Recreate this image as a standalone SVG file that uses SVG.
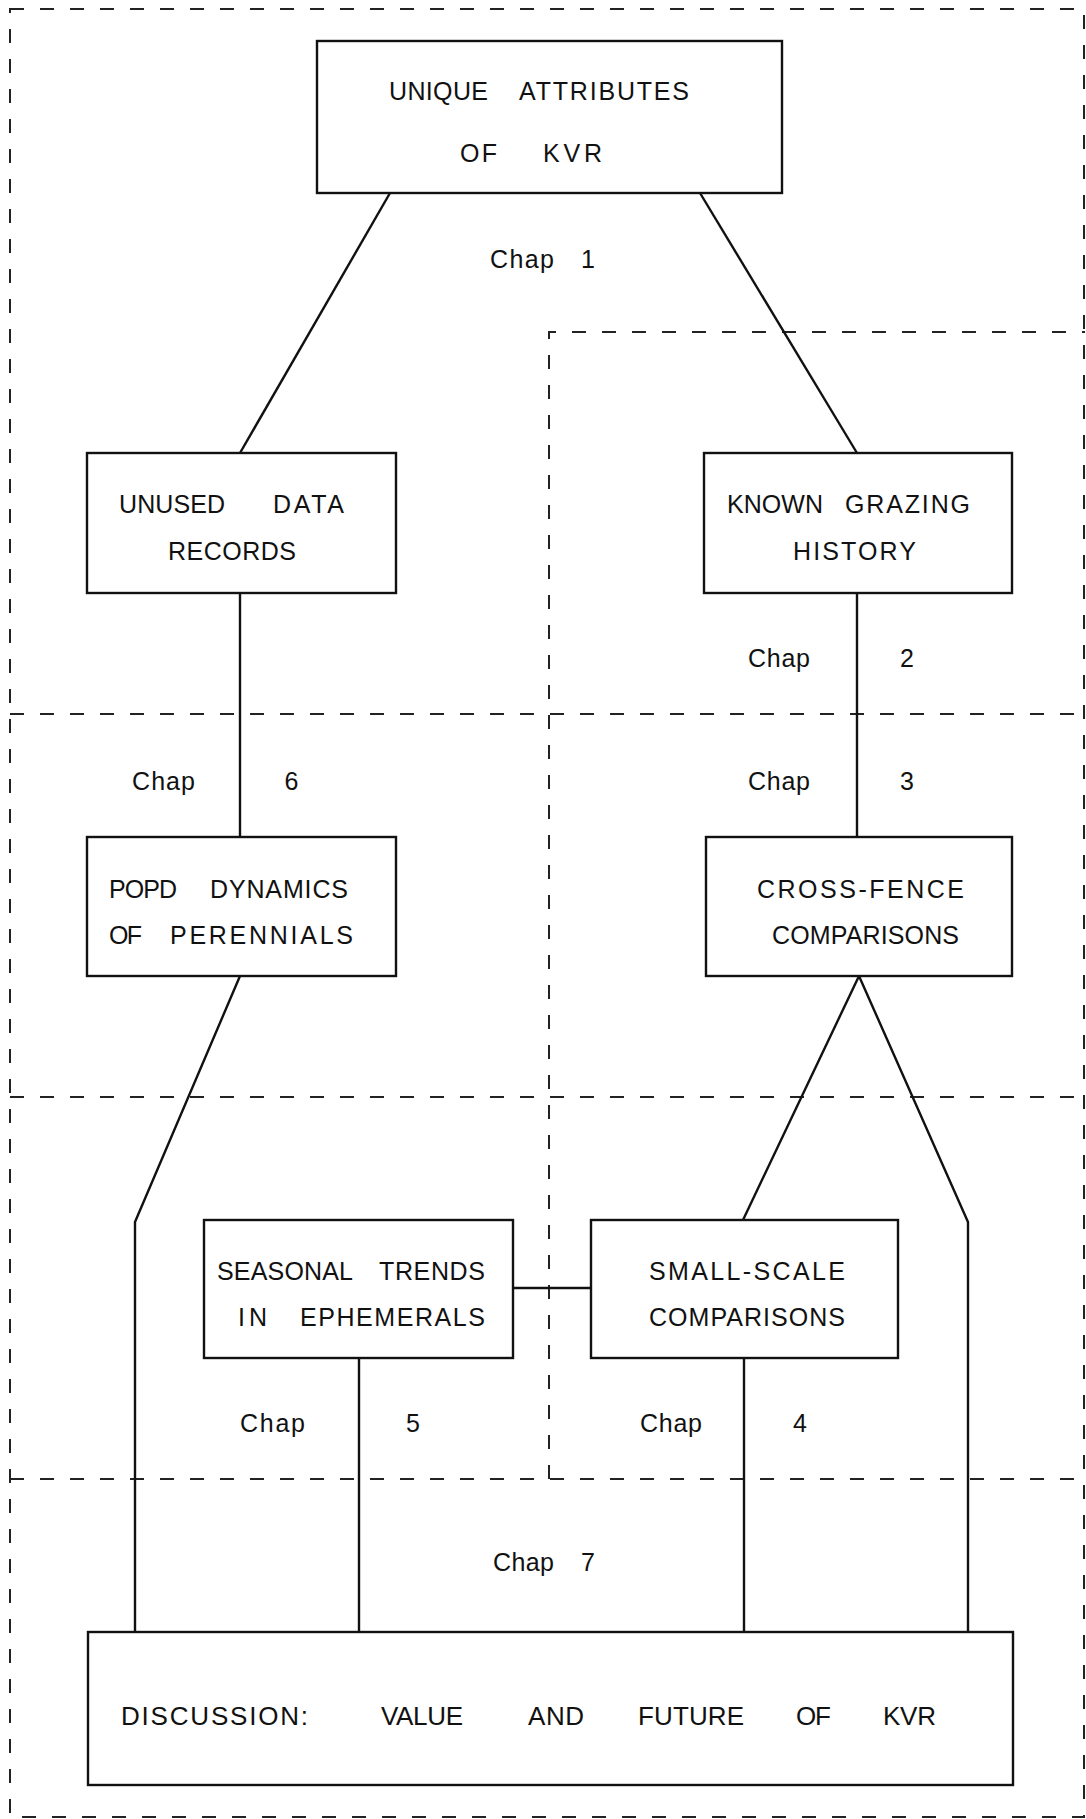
<svg xmlns="http://www.w3.org/2000/svg" width="1086" height="1819" viewBox="0 0 1086 1819">
<style>
.box{fill:#fff;stroke:#111;stroke-width:2.4}
.con{fill:none;stroke:#111;stroke-width:2.4;stroke-linejoin:miter}
.dash{fill:none;stroke:#222;stroke-width:2;stroke-dasharray:14 16}
text{font-family:"Liberation Sans",Arial,sans-serif;font-size:25px;fill:#111;text-anchor:middle}
.big{font-size:26px}
</style>
<rect width="1086" height="1819" fill="#fff"/>
<g id="regions">
<rect class="dash" x="10" y="9" width="1074" height="1808"/>
<path class="dash" d="M549,1479 V332 H1085"/>
<path class="dash" d="M10,714 H1085"/>
<path class="dash" d="M10,1097 H1085"/>
<path class="dash" d="M10,1479 H1085"/>
</g>
<g id="connectors">
<line class="con" x1="390" y1="193" x2="240" y2="453"/>
<line class="con" x1="700" y1="193" x2="857" y2="453"/>
<line class="con" x1="240" y1="593" x2="240" y2="837"/>
<line class="con" x1="857" y1="593" x2="857" y2="837"/>
<polyline class="con" points="240,976 135,1222 135,1632"/>
<line class="con" x1="859" y1="976" x2="743" y2="1220"/>
<polyline class="con" points="859,976 968,1222 968,1632"/>
<line class="con" x1="513" y1="1288" x2="591" y2="1288"/>
<line class="con" x1="359" y1="1358" x2="359" y2="1632"/>
<line class="con" x1="744" y1="1358" x2="744" y2="1632"/>
</g>
<g id="n-unique">
<rect class="box" x="317" y="41" width="465" height="152"/>
<text y="100"><tspan x="438.5" textLength="99">UNIQUE</tspan><tspan x="604" textLength="170">ATTRIBUTES</tspan></text>
<text y="162"><tspan x="478.5" textLength="37">OF</tspan><tspan x="572.5" textLength="59">KVR</tspan></text>
</g>
<g id="n-unused">
<rect class="box" x="87" y="453" width="309" height="140"/>
<text y="513"><tspan x="172" textLength="106">UNUSED</tspan><tspan x="308.5" textLength="71">DATA</tspan></text>
<text y="560"><tspan x="232" textLength="128">RECORDS</tspan></text>
</g>
<g id="n-known">
<rect class="box" x="704" y="453" width="308" height="140"/>
<text y="513"><tspan x="775" textLength="96">KNOWN</tspan><tspan x="907.5" textLength="125">GRAZING</tspan></text>
<text y="560"><tspan x="854.5" textLength="123">HISTORY</tspan></text>
</g>
<g id="n-popd">
<rect class="box" x="87" y="837" width="309" height="139"/>
<text y="898"><tspan x="143" textLength="68">POPD</tspan><tspan x="279" textLength="138">DYNAMICS</tspan></text>
<text y="944"><tspan x="125.5" textLength="33">OF</tspan><tspan x="261.5" textLength="183">PERENNIALS</tspan></text>
</g>
<g id="n-cross">
<rect class="box" x="706" y="837" width="306" height="139"/>
<text y="898"><tspan x="860.5" textLength="207">CROSS-FENCE</tspan></text>
<text y="944"><tspan x="865.5" textLength="187">COMPARISONS</tspan></text>
</g>
<g id="n-seasonal">
<rect class="box" x="204" y="1220" width="309" height="138"/>
<text y="1280"><tspan x="285" textLength="136">SEASONAL</tspan><tspan x="432" textLength="106">TRENDS</tspan></text>
<text y="1326"><tspan x="252.5" textLength="29">IN</tspan><tspan x="392.5" textLength="185">EPHEMERALS</tspan></text>
</g>
<g id="n-small">
<rect class="box" x="591" y="1220" width="307" height="138"/>
<text y="1280"><tspan x="747" textLength="196">SMALL-SCALE</tspan></text>
<text y="1326"><tspan x="747" textLength="196">COMPARISONS</tspan></text>
</g>
<g id="n-discussion">
<rect class="box" x="88" y="1632" width="925" height="153"/>
<text class="big" y="1725"><tspan x="214.5" textLength="187">DISCUSSION:</tspan><tspan x="422" textLength="82">VALUE</tspan><tspan x="556" textLength="56">AND</tspan><tspan x="691" textLength="106">FUTURE</tspan><tspan x="813.5" textLength="35">OF</tspan><tspan x="909.5" textLength="53">KVR</tspan></text>
</g>
<g id="labels">
<text y="268"><tspan x="522" textLength="64">Chap</tspan><tspan x="588">1</tspan></text>
<text y="667"><tspan x="779" textLength="62">Chap</tspan><tspan x="907">2</tspan></text>
<text y="790"><tspan x="779" textLength="62">Chap</tspan><tspan x="907">3</tspan></text>
<text y="790"><tspan x="163.5" textLength="63">Chap</tspan><tspan x="291.5">6</tspan></text>
<text y="1432"><tspan x="272.5" textLength="65">Chap</tspan><tspan x="413">5</tspan></text>
<text y="1432"><tspan x="671" textLength="62">Chap</tspan><tspan x="800">4</tspan></text>
<text y="1571"><tspan x="523.5" textLength="61">Chap</tspan><tspan x="588">7</tspan></text>
</g>
</svg>
